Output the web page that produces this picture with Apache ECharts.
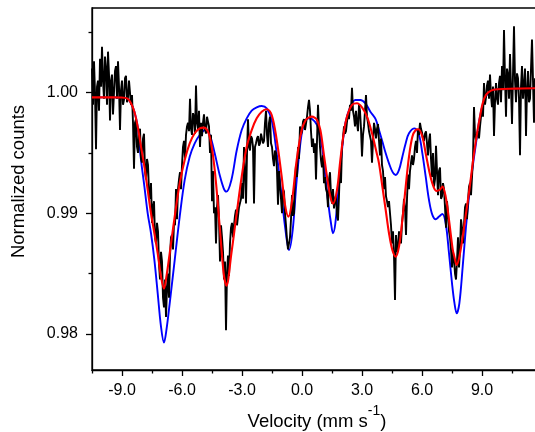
<!DOCTYPE html>
<html><head><meta charset="utf-8">
<script src="https://cdn.jsdelivr.net/npm/echarts@6/dist/echarts.min.js"></script>
<style>html,body{margin:0;padding:0;background:#fff}#c{width:535px;height:432px}</style>
</head><body><div id="c"></div>
<script>
// Tick labels / tick positions
const xTickLabels = [-9, -6, -3, 0, 3, 6, 9];
const xMinorTicks = [-10.5, -7.5, -4.5, -1.5, 1.5, 4.5, 7.5, 10.5];
const yTickLabels = [0.98, 0.99, 1.00];
const yMinorTicks = [0.985, 0.995, 1.005];

// Measured spectrum (black)
const dataVelocity = [
-10.50,-10.45,-10.40,-10.35,-10.30,-10.25,-10.20,-10.15,-10.10,-10.05,-10.00,-9.95,-9.90,-9.85,-9.80,-9.75,-9.70,-9.65,-9.60,-9.55,
-9.50,-9.45,-9.40,-9.35,-9.30,-9.25,-9.20,-9.15,-9.10,-9.05,-9.00,-8.95,-8.90,-8.85,-8.80,-8.75,-8.70,-8.65,-8.60,-8.55,
-8.50,-8.45,-8.40,-8.35,-8.30,-8.25,-8.20,-8.15,-8.10,-8.05,-8.00,-7.95,-7.90,-7.85,-7.80,-7.75,-7.70,-7.65,-7.60,-7.55,
-7.50,-7.45,-7.40,-7.35,-7.30,-7.25,-7.20,-7.15,-7.10,-7.05,-7.00,-6.95,-6.90,-6.85,-6.80,-6.75,-6.70,-6.65,-6.60,-6.55,
-6.50,-6.45,-6.40,-6.35,-6.30,-6.25,-6.20,-6.15,-6.10,-6.05,-6.00,-5.95,-5.90,-5.85,-5.80,-5.75,-5.70,-5.65,-5.60,-5.55,
-5.50,-5.45,-5.40,-5.35,-5.30,-5.25,-5.20,-5.15,-5.10,-5.05,-5.00,-4.95,-4.90,-4.85,-4.80,-4.75,-4.70,-4.65,-4.60,-4.55,
-4.50,-4.45,-4.40,-4.35,-4.30,-4.25,-4.20,-4.15,-4.10,-4.05,-4.00,-3.95,-3.90,-3.85,-3.80,-3.75,-3.70,-3.65,-3.60,-3.55,
-3.50,-3.45,-3.40,-3.35,-3.30,-3.25,-3.20,-3.15,-3.10,-3.05,-3.00,-2.95,-2.90,-2.85,-2.80,-2.75,-2.70,-2.65,-2.60,-2.55,
-2.50,-2.45,-2.40,-2.35,-2.30,-2.25,-2.20,-2.15,-2.10,-2.05,-2.00,-1.95,-1.90,-1.85,-1.80,-1.75,-1.70,-1.65,-1.60,-1.55,
-1.50,-1.45,-1.40,-1.35,-1.30,-1.25,-1.20,-1.15,-1.10,-1.05,-1.00,-0.95,-0.90,-0.85,-0.80,-0.75,-0.70,-0.65,-0.60,-0.55,
-0.50,-0.45,-0.40,-0.35,-0.30,-0.25,-0.20,-0.15,-0.10,-0.05,0.00,0.05,0.10,0.15,0.20,0.25,0.30,0.35,0.40,0.45,
0.50,0.55,0.60,0.65,0.70,0.75,0.80,0.85,0.90,0.95,1.00,1.05,1.10,1.15,1.20,1.25,1.30,1.35,1.40,1.45,
1.50,1.55,1.60,1.65,1.70,1.75,1.80,1.85,1.90,1.95,2.00,2.05,2.10,2.15,2.20,2.25,2.30,2.35,2.40,2.45,
2.50,2.55,2.60,2.65,2.70,2.75,2.80,2.85,2.90,2.95,3.00,3.05,3.10,3.15,3.20,3.25,3.30,3.35,3.40,3.45,
3.50,3.55,3.60,3.65,3.70,3.75,3.80,3.85,3.90,3.95,4.00,4.05,4.10,4.15,4.20,4.25,4.30,4.35,4.40,4.45,
4.50,4.55,4.60,4.65,4.70,4.75,4.80,4.85,4.90,4.95,5.00,5.05,5.10,5.15,5.20,5.25,5.30,5.35,5.40,5.45,
5.50,5.55,5.60,5.65,5.70,5.75,5.80,5.85,5.90,5.95,6.00,6.05,6.10,6.15,6.20,6.25,6.30,6.35,6.40,6.45,
6.50,6.55,6.60,6.65,6.70,6.75,6.80,6.85,6.90,6.95,7.00,7.05,7.10,7.15,7.20,7.25,7.30,7.35,7.40,7.45,
7.50,7.55,7.60,7.65,7.70,7.75,7.80,7.85,7.90,7.95,8.00,8.05,8.10,8.15,8.20,8.25,8.30,8.35,8.40,8.45,
8.50,8.55,8.60,8.65,8.70,8.75,8.80,8.85,8.90,8.95,9.00,9.05,9.10,9.15,9.20,9.25,9.30,9.35,9.40,9.45,
9.50,9.55,9.60,9.65,9.70,9.75,9.80,9.85,9.90,9.95,10.00,10.05,10.10,10.15,10.20,10.25,10.30,10.35,10.40,10.45,
10.50,10.55,10.60,10.65,10.70,10.75,10.80,10.85,10.90,10.95,11.00,11.05,11.10,11.15,11.20,11.25,11.30,11.35,11.40,11.45,
11.50,11.55,11.60,11.65];
const dataCounts = [
1.0020,0.9990,1.0026,1.0000,0.9953,1.0005,1.0010,0.9985,1.0028,1.0005,1.0038,1.0010,0.9995,1.0030,1.0020,0.9990,1.0034,1.0015,0.9977,1.0010,
1.0015,0.9982,1.0000,1.0018,1.0022,0.9995,1.0026,1.0005,0.9969,1.0002,1.0010,0.9990,0.9994,1.0012,1.0014,0.9992,0.9996,1.0010,1.0009,0.9990,
0.9998,0.9975,0.9937,0.9975,0.9978,0.9955,0.9950,0.9968,0.9970,0.9945,0.9942,0.9962,0.9966,0.9935,0.9928,0.9945,0.9940,0.9918,0.9912,0.9925,
0.9892,0.9905,0.9910,0.9880,0.9875,0.9892,0.9885,0.9858,0.9845,0.9868,0.9860,0.9830,0.9822,0.9845,0.9814,0.9838,0.9850,0.9830,0.9865,0.9880,
0.9882,0.9870,0.9892,0.9890,0.9920,0.9895,0.9920,0.9928,0.9934,0.9920,0.9940,0.9955,0.9960,0.9945,0.9965,0.9972,0.9975,0.9968,0.9995,0.9970,
0.9965,0.9983,0.9980,0.9966,1.0006,0.9975,0.9970,0.9985,0.9955,0.9975,0.9964,0.9975,0.9982,0.9970,0.9966,0.9980,0.9980,0.9972,0.9950,0.9965,
0.9910,0.9935,0.9900,0.9905,0.9875,0.9905,0.9915,0.9895,0.9860,0.9890,0.9880,0.9868,0.9845,0.9860,0.9803,0.9850,0.9865,0.9848,0.9875,0.9888,
0.9892,0.9880,0.9890,0.9898,0.9903,0.9890,0.9890,0.9905,0.9904,0.9912,0.9925,0.9912,0.9955,0.9935,0.9908,0.9950,0.9978,0.9955,0.9952,0.9964,
0.9962,0.9955,0.9908,0.9955,0.9958,0.9962,0.9964,0.9956,0.9958,0.9966,0.9965,0.9958,0.9960,0.9975,0.9985,0.9965,0.9955,0.9975,0.9980,0.9958,
0.9955,0.9945,0.9939,0.9952,0.9950,0.9935,0.9907,0.9935,0.9935,0.9912,0.9900,0.9920,0.9918,0.9900,0.9890,0.9878,0.9870,0.9875,0.9880,0.9895,
0.9915,0.9898,0.9900,0.9928,0.9940,0.9930,0.9955,0.9945,0.9972,0.9965,0.9968,0.9976,0.9978,0.9969,0.9970,0.9980,0.9988,0.9994,0.9985,0.9968,
0.9955,0.9962,0.9950,0.9958,0.9928,0.9960,0.9990,0.9970,0.9955,0.9944,0.9938,0.9948,0.9925,0.9930,0.9920,0.9917,0.9905,0.9928,0.9934,0.9915,
0.9908,0.9920,0.9904,0.9911,0.9915,0.9898,0.9894,0.9915,0.9940,0.9925,0.9955,0.9962,0.9972,0.9966,0.9968,0.9976,0.9982,0.9978,0.9990,0.9985,
1.0004,0.9985,0.9980,0.9972,0.9985,0.9975,0.9968,0.9990,0.9985,0.9970,0.9947,0.9965,0.9972,0.9985,0.9998,0.9980,0.9975,0.9968,0.9964,0.9960,
0.9942,0.9960,0.9975,0.9970,0.9962,0.9970,0.9974,0.9960,0.9948,0.9962,0.9940,0.9935,0.9920,0.9930,0.9914,0.9910,0.9905,0.9910,0.9900,0.9890,
0.9875,0.9885,0.9865,0.9828,0.9882,0.9868,0.9872,0.9885,0.9880,0.9875,0.9892,0.9900,0.9912,0.9905,0.9882,0.9912,0.9932,0.9920,0.9935,0.9942,
0.9948,0.9940,0.9945,0.9955,0.9960,0.9950,0.9970,0.9965,0.9975,0.9970,0.9967,0.9962,0.9960,0.9966,0.9968,0.9958,0.9948,0.9960,0.9966,0.9945,
0.9930,0.9950,0.9922,0.9928,0.9956,0.9935,0.9915,0.9935,0.9938,0.9912,0.9914,0.9925,0.9920,0.9905,0.9888,0.9910,0.9900,0.9885,0.9880,0.9870,
0.9855,0.9868,0.9862,0.9850,0.9845,0.9860,0.9880,0.9855,0.9870,0.9895,0.9888,0.9875,0.9890,0.9905,0.9908,0.9895,0.9910,0.9922,0.9925,0.9915,
0.9930,0.9945,0.9988,0.9965,0.9960,0.9966,0.9968,0.9962,0.9972,0.9980,0.9988,0.9980,1.0008,0.9990,0.9996,1.0006,1.0010,0.9995,1.0015,0.9998,
0.9988,1.0005,0.9964,0.9992,1.0008,0.9995,0.9990,1.0008,1.0014,0.9992,1.0022,1.0002,1.0052,1.0012,0.9980,1.0020,1.0015,0.9995,1.0032,1.0005,
0.9974,1.0015,1.0055,1.0010,0.9992,1.0016,1.0012,0.9995,0.9948,1.0005,1.0022,0.9995,1.0006,1.0020,0.9964,1.0002,1.0018,0.9992,0.9995,1.0020,
1.0044,1.0010,0.9975,1.0012];

// Fit model 1 (blue)
const blueVelocity = [-10.5,-9.5,-9.05,-8.72,-8.55,-8.38,-8.215,-8.05,-7.88,-7.715,-7.55,-7.38,-7.215,-7.05,-6.9,-6.78,-6.615,-6.365,-6.115,-5.865,-5.615,-5.365,-5.115,-4.83,-4.615,-4.365,-4.115,-3.915,-3.78,-3.53,-3.265,-3.015,-2.765,-2.515,-2.265,-2.015,-1.765,-1.515,-1.265,-1.015,-0.848,-0.648,-0.465,-0.265,-0.015,0.185,0.333,0.5,0.75,1.0,1.168,1.335,1.45,1.55,1.668,1.835,2.0,2.168,2.418,2.668,2.918,3.168,3.418,3.68,3.85,4.018,4.185,4.35,4.518,4.685,4.85,5.018,5.185,5.35,5.635,5.85,6.018,6.185,6.35,6.518,6.685,6.85,7.018,7.185,7.35,7.5,7.618,7.735,7.868,8.035,8.2,8.368,8.535,8.7,8.868,9.035,9.2,9.45,9.785,10.62,11.63,12];
const blueCounts = [0.99961,0.99961,0.99960,0.99950,0.99912,0.99842,0.99718,0.99442,0.99221,0.98999,0.98834,0.98612,0.98336,0.98060,0.97927,0.98030,0.98253,0.98612,0.98972,0.99276,0.99469,0.99580,0.99649,0.99690,0.99649,0.99497,0.99317,0.99207,0.99179,0.99276,0.99520,0.99690,0.99787,0.99851,0.99878,0.99889,0.99870,0.99773,0.99497,0.99138,0.98889,0.98695,0.98861,0.99276,0.99663,0.99773,0.99787,0.99782,0.99732,0.99552,0.99303,0.99055,0.98917,0.98834,0.98917,0.99221,0.99525,0.99746,0.99884,0.99939,0.99939,0.99912,0.99842,0.99780,0.99690,0.99594,0.99497,0.99414,0.99345,0.99317,0.99359,0.99469,0.99580,0.99663,0.99704,0.99649,0.99497,0.99303,0.99110,0.98986,0.98950,0.98972,0.98994,0.98917,0.98668,0.98420,0.98260,0.98170,0.98253,0.98557,0.98889,0.99165,0.99386,0.99580,0.99773,0.99898,0.99972,1.00014,1.00028,1.00033,1.00036,1.00036];

// Fit model 2 (red)
const redVelocity = [-10.5,-9.5,-9.05,-8.72,-8.55,-8.38,-8.215,-8.05,-7.88,-7.715,-7.55,-7.38,-7.215,-7.05,-6.9,-6.78,-6.615,-6.365,-6.115,-5.865,-5.615,-5.365,-5.115,-4.9,-4.615,-4.365,-4.115,-3.915,-3.78,-3.53,-3.265,-3.015,-2.765,-2.515,-2.265,-2.015,-1.765,-1.515,-1.265,-1.015,-0.848,-0.68,-0.515,-0.265,-0.015,0.185,0.35,0.5,0.65,0.75,0.918,1.085,1.25,1.418,1.55,1.75,1.918,2.085,2.25,2.5,2.75,3.0,3.25,3.5,3.72,3.85,4.018,4.185,4.35,4.518,4.685,4.85,5.018,5.185,5.35,5.518,5.685,5.82,6.018,6.185,6.35,6.518,6.718,6.885,7.018,7.185,7.35,7.535,7.618,7.735,7.868,8.035,8.2,8.368,8.535,8.7,8.868,9.035,9.2,9.45,9.785,10.62,11.63,12];
const redCounts = [0.99961,0.99961,0.99960,0.99950,0.99912,0.99842,0.99718,0.99552,0.99386,0.99193,0.98999,0.98834,0.98668,0.98474,0.98375,0.98474,0.98668,0.98972,0.99248,0.99442,0.99580,0.99663,0.99704,0.99710,0.99635,0.99359,0.98889,0.98502,0.98400,0.98668,0.99000,0.99303,0.99552,0.99690,0.99787,0.99842,0.99862,0.99815,0.99608,0.99303,0.99069,0.98972,0.99082,0.99442,0.99690,0.99773,0.99795,0.99801,0.99790,0.99773,0.99690,0.99497,0.99303,0.99138,0.99080,0.99193,0.99442,0.99663,0.99801,0.99898,0.99912,0.99878,0.99801,0.99663,0.99510,0.99414,0.99221,0.99027,0.98834,0.98695,0.98640,0.98723,0.98944,0.99221,0.99469,0.99635,0.99690,0.99696,0.99635,0.99497,0.99359,0.99248,0.99185,0.99193,0.99221,0.99138,0.98944,0.98700,0.98640,0.98571,0.98640,0.98806,0.98999,0.99193,0.99414,0.99608,0.99773,0.99912,0.99981,1.00017,1.00028,1.00033,1.00036,1.00036];

const zip = (xs, ys) => xs.map((x, i) => [x, ys[i]]);
const FONT = '"Liberation Sans", Arial, sans-serif';
const AX = {color: '#000', width: 1.3};

const chart = echarts.init(document.getElementById('c'), null, {renderer: 'canvas'});
chart.setOption({
  animation: false,
  backgroundColor: '#fff',
  grid: {left: 92, right: -7, top: 8, bottom: 62, containLabel: false, outerBoundsMode: 'none',
         show: true, borderColor: '#000', borderWidth: 1.3, backgroundColor: 'transparent'},
  xAxis: [
    {
      type: 'value', min: -10.5, max: 12, position: 'bottom',
      axisLine: {show: true, onZero: false, lineStyle: AX},
      axisTick: {show: true, customValues: xTickLabels, length: 6, lineStyle: AX},
      axisLabel: {show: true, customValues: xTickLabels, formatter: v => Number(v).toFixed(1), margin: 13, color: '#000', fontSize: 16, fontFamily: FONT},
      splitLine: {show: false},
      name: '{a|Velocity (mm s}{b|-1}{a|)}', nameLocation: 'middle', nameGap: 34,
      nameTextStyle: {rich: {
        a: {fontSize: 18.5, fontFamily: FONT, color: '#000', lineHeight: 27, verticalAlign: 'bottom'},
        b: {fontSize: 14, fontFamily: FONT, color: '#000', lineHeight: 14, verticalAlign: 'top'}
      }}
    },
    {
      type: 'value', min: -10.5, max: 12, position: 'bottom', gridIndex: 0,
      axisLine: {show: false, onZero: false},
      axisTick: {show: true, customValues: xMinorTicks, length: 3.5, lineStyle: AX},
      axisLabel: {show: false}, splitLine: {show: false}
    }
  ],
  yAxis: [
    {
      type: 'value', min: 0.977, max: 1.00702, position: 'left',
      axisLine: {show: true, onZero: false, lineStyle: AX},
      axisTick: {show: true, customValues: yTickLabels, length: 6, lineStyle: AX},
      axisLabel: {show: true, customValues: yTickLabels, formatter: v => Number(v).toFixed(2), margin: 14, color: '#000', fontSize: 16, fontFamily: FONT},
      splitLine: {show: false}
    },
    {
      type: 'value', min: 0.977, max: 1.00702, position: 'left', gridIndex: 0,
      axisLine: {show: false, onZero: false},
      axisTick: {show: true, customValues: yMinorTicks, length: 3.5, lineStyle: AX},
      axisLabel: {show: false}, splitLine: {show: false}
    }
  ],
  graphic: [{
    type: 'text', x: 19, y: 181.5, rotation: Math.PI / 2,
    style: {text: 'Normalized counts', fill: '#000', font: '18.5px "Liberation Sans", Arial, sans-serif', align: 'center', verticalAlign: 'middle'}
  }],
  series: [
    {type: 'line', name: 'Fit 1', data: zip(blueVelocity, blueCounts), showSymbol: false, smooth: 0.35,
     lineStyle: {color: '#0000ff', width: 1.9}, itemStyle: {color: '#0000ff'}, z: 2},
    {type: 'line', name: 'Data', data: zip(dataVelocity, dataCounts), showSymbol: false,
     lineStyle: {color: '#000', width: 1.9}, itemStyle: {color: '#000'}, z: 3},
    {type: 'line', name: 'Fit 2', data: zip(redVelocity, redCounts), showSymbol: false, smooth: 0.35,
     lineStyle: {color: '#ff0000', width: 2.1}, itemStyle: {color: '#ff0000'}, z: 4}
  ]
});
</script></body></html>
